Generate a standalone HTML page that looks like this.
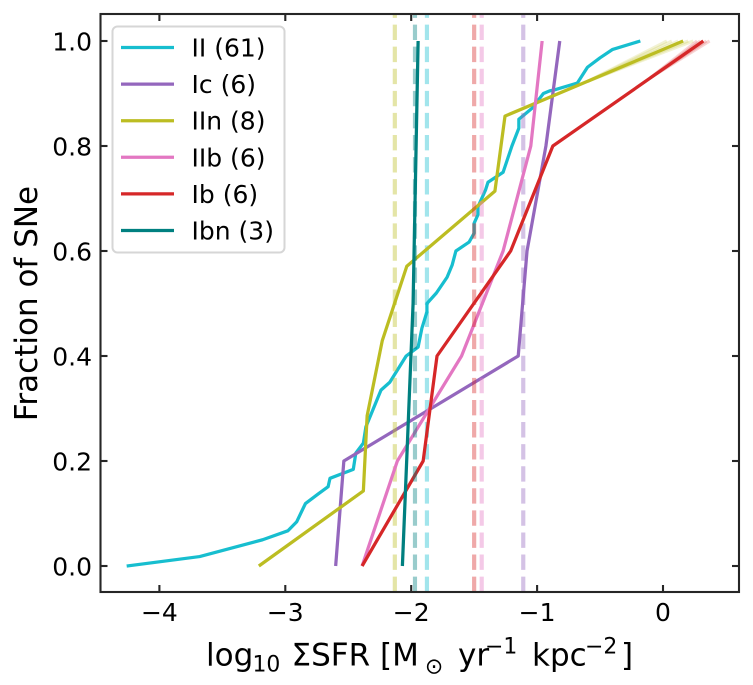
<!DOCTYPE html>
<html>
<head>
<meta charset="utf-8">
<style>
html,body{margin:0;padding:0;background:#fff;width:753px;height:685px;overflow:hidden}
svg{display:block;font-family:"DejaVu Sans","Liberation Sans",sans-serif;fill:#000}
</style>
</head>
<body>
<svg id="chart" width="753" height="685" viewBox="0 0 753 685" xmlns="http://www.w3.org/2000/svg">
  <g id="plot"></g>
  <rect x="100.5" y="14" width="638.5" height="578" fill="none" stroke="#262626" stroke-width="2.1"/>
  <g id="ticks"></g>
  <g>
    <text transform="translate(37,303.5) rotate(-90)" text-anchor="middle" font-size="31" fill="#000">Fraction of SNe</text>
  </g>
  <g font-size="31">
    <text x="206" y="665.7">log</text>
    <text x="252.5" y="671.5" font-size="21.9">10</text>
    <text x="291.5" y="665.7">ΣSFR [M</text>
    <text x="434" y="673.5" font-size="21.9" text-anchor="middle">⊙</text>
    <text x="458" y="665.7">yr</text>
    <text x="485" y="653.6" font-size="21.9">−1</text>
    <text x="532" y="665.7">kpc</text>
    <text x="585" y="653.6" font-size="21.9">−2</text>
    <text x="621" y="665.7">]</text>
  </g>
  <g id="legend">
    <rect x="112.5" y="26.5" width="172" height="226" rx="5" ry="5" fill="#fff" fill-opacity="0.8" stroke="#d6d6d6" stroke-width="2"/>
  </g>
</svg>
<script>
var seriesNames = ["II (61)", "Ic (6)", "IIn (8)", "IIb (6)", "Ib (6)", "Ibn (3)"];
var seriesColors = ["#17becf", "#9467bd", "#bcbd22", "#e377c2", "#d62728", "#008080"];

var xII = [-4.26,-3.68,-3.18,-2.98,-2.91,-2.84,-2.74,-2.66,-2.645,-2.46,-2.44,-2.38,-2.36,-2.24,-2.17,-2.04,-1.945,-1.915,-1.875,-1.875,-1.80,-1.715,-1.675,-1.645,-1.54,-1.50,-1.50,-1.47,-1.47,-1.41,-1.39,-1.27,-1.20,-1.145,-1.145,-1.04,-0.95,-0.90,-0.86,-0.68,-0.60,-0.50,-0.40,-0.18];
var yII = [0,0.018,0.05,0.067,0.084,0.119,0.137,0.151,0.167,0.184,0.215,0.234,0.265,0.335,0.35,0.40,0.417,0.453,0.484,0.50,0.52,0.55,0.573,0.60,0.617,0.634,0.653,0.669,0.684,0.716,0.731,0.75,0.80,0.834,0.851,0.872,0.90,0.905,0.907,0.92,0.95,0.968,0.984,1.0];
var xIc = [-2.60,-2.535,-1.15,-1.08,-0.93,-0.82];
var yIc = [0,0.2,0.4,0.6,0.8,1.0];
var xIIn = [-3.21,-2.38,-2.35,-2.23,-2.035,-1.335,-1.255,0.16];
var yIIn = [0,0.143,0.286,0.429,0.571,0.714,0.857,1.0];
var xIIb = [-2.39,-2.11,-1.60,-1.27,-1.05,-0.96];
var yIIb = [0,0.2,0.4,0.6,0.8,1.0];
var xIb = [-2.39,-1.905,-1.795,-1.21,-0.875,0.32];
var yIb = [0,0.2,0.4,0.6,0.8,1.0];
var xIbn = [-2.07,-1.985,-1.945];
var yIbn = [0,0.5,1.0];
var seriesX = [xII, xIc, xIIn, xIIb, xIb, xIbn];
var seriesY = [yII, yIc, yIIn, yIIb, yIb, yIbn];

var medians = [-1.875, -1.11, -2.13, -1.44, -1.50, -1.97];

var xTicks = [-4, -3, -2, -1, 0];
var yTicks = [0, 0.2, 0.4, 0.6, 0.8, 1.0];
var xTickLabels = ["−4", "−3", "−2", "−1", "0"];
var yTickLabels = ["0.0", "0.2", "0.4", "0.6", "0.8", "1.0"];

var scatterIInEnd = [0.24, 0.20, 0.12, 0.07, 0.03];
var scatterIbEnd = [0.37, 0.345, 0.295, 0.27];
var scatterIInStart = [-0.60, 0.923];
var scatterIbStart = [-0.10, 0.93];

var NS = "http://www.w3.org/2000/svg";
function sx(v) { return 663 + 125.9 * v; }
function sy(v) { return 566 - 525 * v; }
function make(tag, parent) {
  var el = document.createElementNS(NS, tag);
  parent.appendChild(el);
  return el;
}
function pathFrom(xs, ys) {
  var s = "";
  for (var i = 0; i < xs.length; i++) {
    s += (i ? "L" : "M") + sx(xs[i]).toFixed(2) + " " + sy(ys[i]).toFixed(2);
  }
  return s;
}
var plot = document.getElementById("plot");
var ticks = document.getElementById("ticks");
var legend = document.getElementById("legend");

scatterIInEnd.forEach(function (end) {
  var l = make("line", plot);
  
  
  l.setAttribute("x1", sx(scatterIInStart[0]));
  l.setAttribute("y1", sy(scatterIInStart[1]));
  l.setAttribute("x2", sx(end));
  l.setAttribute("y2", sy(1));
  l.setAttribute("stroke", seriesColors[2]);
  l.setAttribute("stroke-opacity", "0.2");
  l.setAttribute("stroke-width", "3.1");
});
scatterIbEnd.forEach(function (end) {
  var l = make("line", plot);
  
  
  l.setAttribute("x1", sx(scatterIbStart[0]));
  l.setAttribute("y1", sy(scatterIbStart[1]));
  l.setAttribute("x2", sx(end));
  l.setAttribute("y2", sy(1));
  l.setAttribute("stroke", seriesColors[4]);
  l.setAttribute("stroke-opacity", "0.2");
  l.setAttribute("stroke-width", "3.1");
});

seriesNames.forEach(function (name, i) {
  var line = make("path", plot);
  
  
  line.setAttribute("d", pathFrom(seriesX[i], seriesY[i]));
  line.setAttribute("fill", "none");
  line.setAttribute("stroke", seriesColors[i]);
  line.setAttribute("stroke-width", "3.25");
  line.setAttribute("stroke-linejoin", "round");

  var med = make("line", plot);
  
  
  med.setAttribute("x1", sx(medians[i]));
  med.setAttribute("x2", sx(medians[i]));
  med.setAttribute("y1", 592);
  med.setAttribute("y2", 14);
  med.setAttribute("stroke", seriesColors[i]);
  med.setAttribute("stroke-opacity", "0.4");
  med.setAttribute("stroke-width", "4.17");
  med.setAttribute("stroke-dasharray", "15.4 6.68");
});

xTicks.forEach(function (v, i) {
  var a = make("line", ticks);
  
  
  a.setAttribute("x1", sx(v)); a.setAttribute("x2", sx(v));
  a.setAttribute("y1", 592); a.setAttribute("y2", 585);
  a.setAttribute("stroke", "#262626"); a.setAttribute("stroke-width", "2.1");
  var b = make("line", ticks);
  
  
  b.setAttribute("x1", sx(v)); b.setAttribute("x2", sx(v));
  b.setAttribute("y1", 14); b.setAttribute("y2", 21);
  b.setAttribute("stroke", "#262626"); b.setAttribute("stroke-width", "2.1");
  var t = make("text", ticks);
  
  
  t.setAttribute("x", sx(v));
  t.setAttribute("y", 621);
  t.setAttribute("text-anchor", "middle");
  t.setAttribute("font-size", "25");
  t.textContent = xTickLabels[i];
});
yTicks.forEach(function (v, i) {
  var a = make("line", ticks);
  
  
  a.setAttribute("x1", 100.5); a.setAttribute("x2", 107.5);
  a.setAttribute("y1", sy(v)); a.setAttribute("y2", sy(v));
  a.setAttribute("stroke", "#262626"); a.setAttribute("stroke-width", "2.1");
  var b = make("line", ticks);
  
  
  b.setAttribute("x1", 739); b.setAttribute("x2", 732);
  b.setAttribute("y1", sy(v)); b.setAttribute("y2", sy(v));
  b.setAttribute("stroke", "#262626"); b.setAttribute("stroke-width", "2.1");
  var t = make("text", ticks);
  
  
  t.setAttribute("x", 92);
  t.setAttribute("y", sy(v) + 9.3);
  t.setAttribute("text-anchor", "end");
  t.setAttribute("font-size", "25");
  t.textContent = yTickLabels[i];
});

seriesNames.forEach(function (name, i) {
  var ly = 47.5 + 36.6 * i;
  var k = make("line", legend);
  
  
  k.setAttribute("x1", 121); k.setAttribute("x2", 174);
  k.setAttribute("y1", ly); k.setAttribute("y2", ly);
  k.setAttribute("stroke", seriesColors[i]);
  k.setAttribute("stroke-width", "3.25");
  var t = make("text", legend);
  
  
  t.setAttribute("x", 191.5);
  t.setAttribute("y", ly + 9);
  t.setAttribute("font-size", "25");
  t.textContent = name;
});
</script>
</body>
</html>
